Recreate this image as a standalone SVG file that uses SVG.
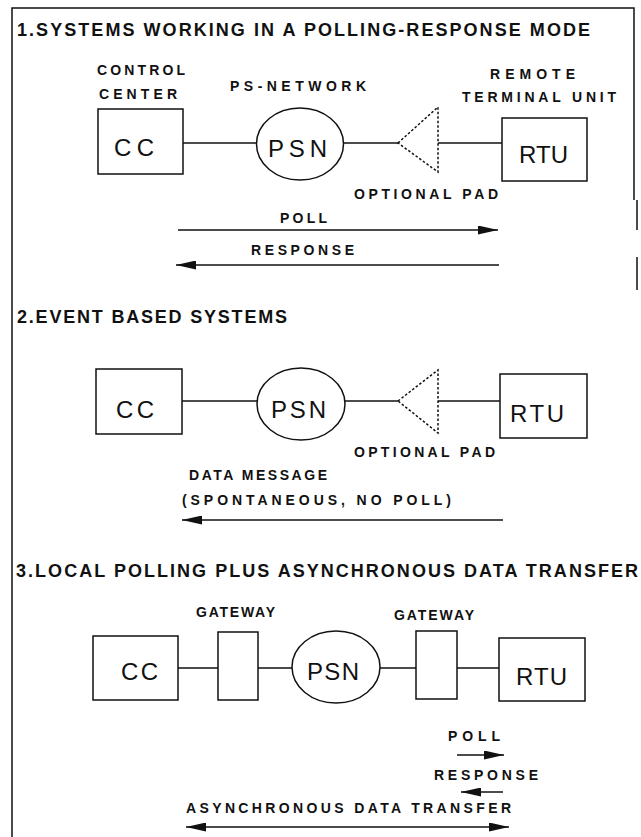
<svg xmlns="http://www.w3.org/2000/svg" width="641" height="837" viewBox="0 0 641 837">
<defs>
<style>
.ln{stroke:#111;stroke-width:1.5;fill:none}
.bx{stroke:#111;stroke-width:1.5;fill:#fff}
.dt{stroke:#111;stroke-width:1.5;fill:none;stroke-dasharray:2.5,2}
.ar{stroke:#111;stroke-width:1.6;fill:none;marker-end:url(#ah)}
.da{stroke:#111;stroke-width:1.6;fill:none;marker-end:url(#ah);marker-start:url(#ah)}
.t{font-family:"Liberation Sans",Arial,sans-serif;font-weight:bold;font-size:18px;fill:#111}
.l{font-family:"Liberation Sans",Arial,sans-serif;font-weight:bold;font-size:14px;fill:#111}
.n{font-family:"Liberation Sans",Arial,sans-serif;font-size:24px;fill:#111}
</style>
<marker id="ah" viewBox="0 0 20 9" refX="20" refY="4.5" markerWidth="20" markerHeight="9" markerUnits="userSpaceOnUse" orient="auto-start-reverse">
<path d="M0,0 L20,4.5 L0,9 z" fill="#111"/>
</marker>
</defs>
<rect width="641" height="837" fill="#fff"/>
<g id="frame">
<path class="ln" d="M12,837 V8 H634 V200"/>
<path class="ln" d="M637,200 V230 M637,257 V290"/>
</g>
<g id="titles">
<text class="t" x="17" y="36" textLength="573" lengthAdjust="spacing">1.SYSTEMS WORKING IN A POLLING-RESPONSE MODE</text>
<text class="t" x="17" y="323" textLength="270" lengthAdjust="spacing">2.EVENT BASED SYSTEMS</text>
<text class="t" x="16" y="577" textLength="622" lengthAdjust="spacing">3.LOCAL POLLING PLUS ASYNCHRONOUS DATA TRANSFER</text>
</g>
<g id="connectors">
<line class="ln" x1="183" y1="143" x2="256.5" y2="143"/>
<line class="ln" x1="343.5" y1="143" x2="398" y2="143"/>
<line class="ln" x1="438" y1="143" x2="502" y2="143"/>
<line class="ar" x1="178" y1="230" x2="498" y2="230"/>
<line class="ar" x1="499" y1="265" x2="176" y2="265"/>
<line class="ln" x1="182" y1="401" x2="257" y2="401"/>
<line class="ln" x1="345" y1="401" x2="398" y2="401"/>
<line class="ln" x1="438" y1="401" x2="500" y2="401"/>
<line class="ar" x1="503" y1="520" x2="182" y2="520"/>
<line class="ln" x1="178" y1="668" x2="218" y2="668"/>
<line class="ln" x1="258" y1="668" x2="292" y2="668"/>
<line class="ln" x1="380" y1="668" x2="416" y2="668"/>
<line class="ln" x1="457" y1="668" x2="499" y2="668"/>
<line class="ar" x1="457" y1="755" x2="504" y2="755"/>
<line class="ar" x1="503" y1="792" x2="461" y2="792"/>
<line class="da" x1="186" y1="827" x2="509" y2="827"/>
</g>
<g id="s1-cc"><text class="l" x="97" y="75" textLength="88" lengthAdjust="spacing">CONTROL</text><text class="l" x="99" y="99" textLength="78" lengthAdjust="spacing">CENTER</text><rect class="bx" x="98" y="109" width="85" height="65"/><text class="n" x="114" y="156" textLength="40" lengthAdjust="spacing">CC</text></g>
<g id="s1-psn"><text class="l" x="230" y="91" textLength="136" lengthAdjust="spacing">PS-NETWORK</text><ellipse class="bx" cx="300" cy="144" rx="43.5" ry="36"/><text class="n" x="268" y="157" textLength="59" lengthAdjust="spacing">PSN</text></g>
<g id="s1-pad"><path class="dt" d="M398,143 L438,107 L438,172 Z"/><text class="l" x="354" y="199" textLength="144" lengthAdjust="spacing">OPTIONAL PAD</text></g>
<g id="s1-rtu"><text class="l" x="490" y="79" textLength="85" lengthAdjust="spacing">REMOTE</text><text class="l" x="462" y="102" textLength="154" lengthAdjust="spacing">TERMINAL UNIT</text><rect class="bx" x="502" y="118" width="85" height="63"/><text class="n" x="519" y="163" textLength="49" lengthAdjust="spacing">RTU</text></g>
<g id="s1-labels"><text class="l" x="280" y="223" textLength="47" lengthAdjust="spacing">POLL</text><text class="l" x="251" y="255" textLength="103" lengthAdjust="spacing">RESPONSE</text></g>
<g id="s2-cc"><rect class="bx" x="96" y="369" width="86" height="65"/><text class="n" x="116" y="418" textLength="38" lengthAdjust="spacing">CC</text></g>
<g id="s2-psn"><ellipse class="bx" cx="301" cy="404" rx="44" ry="36"/><text class="n" x="271" y="418" textLength="55" lengthAdjust="spacing">PSN</text></g>
<g id="s2-pad"><path class="dt" d="M398,401 L438,370 L438,433 Z"/><text class="l" x="354" y="457" textLength="141" lengthAdjust="spacing">OPTIONAL PAD</text></g>
<g id="s2-rtu"><rect class="bx" x="500" y="374" width="87" height="64"/><text class="n" x="510" y="422" textLength="54" lengthAdjust="spacing">RTU</text></g>
<g id="s2-labels"><text class="l" x="189" y="480" textLength="138" lengthAdjust="spacing">DATA MESSAGE</text><text class="l" x="182" y="505" textLength="269" lengthAdjust="spacing">(SPONTANEOUS, NO POLL)</text></g>
<g id="s3-cc"><rect class="bx" x="93" y="636" width="85" height="64"/><text class="n" x="121" y="680" textLength="37" lengthAdjust="spacing">CC</text></g>
<g id="s3-gw1"><text class="l" x="196" y="617" textLength="79" lengthAdjust="spacing">GATEWAY</text><rect class="bx" x="218" y="632" width="40" height="68"/></g>
<g id="s3-psn"><ellipse class="bx" cx="336" cy="667" rx="44" ry="36"/><text class="n" x="307" y="680" textLength="52" lengthAdjust="spacing">PSN</text></g>
<g id="s3-gw2"><text class="l" x="394" y="620" textLength="80" lengthAdjust="spacing">GATEWAY</text><rect class="bx" x="416" y="631" width="41" height="68"/></g>
<g id="s3-rtu"><rect class="bx" x="499" y="638" width="86" height="63"/><text class="n" x="516" y="685" textLength="51" lengthAdjust="spacing">RTU</text></g>
<g id="s3-labels"><text class="l" x="448" y="741" textLength="52" lengthAdjust="spacing">POLL</text><text class="l" x="434" y="780" textLength="104" lengthAdjust="spacing">RESPONSE</text><text class="l" x="186" y="813" textLength="325" lengthAdjust="spacing">ASYNCHRONOUS DATA TRANSFER</text></g>
</svg>
